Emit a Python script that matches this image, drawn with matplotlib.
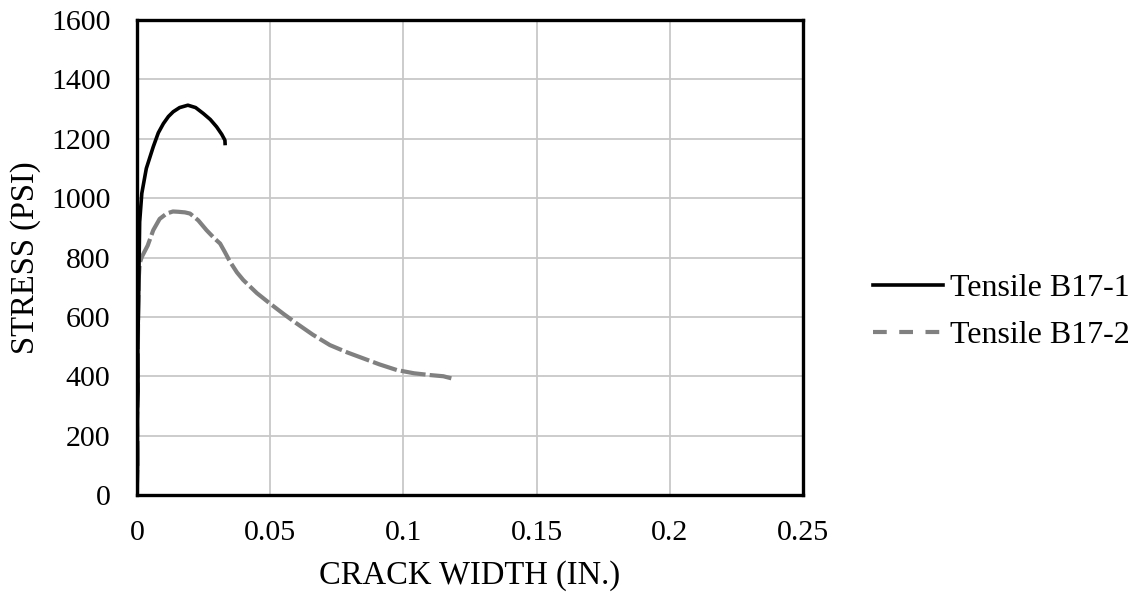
import matplotlib
matplotlib.use("Agg")
import matplotlib.pyplot as plt
from matplotlib.lines import Line2D

# Data
b17_1_width = [0.0, 0.0002, 0.0001, 0.0004, 0.0003, 0.0006, 0.0008, 0.0010, 0.0018,
               0.0035, 0.0061, 0.0080, 0.0099, 0.0118, 0.0136, 0.0160, 0.0191,
               0.0220, 0.0249, 0.0275, 0.0299, 0.0318, 0.0330, 0.0331]
b17_1_stress = [0, 100, 250, 350, 500, 650, 800, 920, 1016,
                1100, 1173, 1220, 1251, 1275, 1291, 1305, 1313,
                1305, 1285, 1265, 1240, 1215, 1195, 1178]

b17_2_width = [0.0, 0.0002, 0.0001, 0.0003, 0.0004, 0.0006, 0.0010, 0.0018,
               0.0040, 0.0061, 0.0085, 0.0111, 0.0135, 0.0155, 0.0180, 0.0199,
               0.0230, 0.0261, 0.0290, 0.0312, 0.0330, 0.0349, 0.0375, 0.0399,
               0.0450, 0.0499, 0.0550, 0.0599, 0.0660, 0.0724, 0.0790, 0.0850,
               0.0910, 0.0975, 0.1040, 0.1100, 0.1150, 0.1180]
b17_2_stress = [0, 150, 300, 450, 600, 720, 780, 802,
                840, 892, 930, 948, 955, 954, 952, 948,
                925, 892, 865, 847, 818, 786, 750, 724,
                680, 645, 610, 578, 540, 505, 480, 460,
                440, 421, 410, 404, 400, 393]

x_ticks = [0, 0.05, 0.1, 0.15, 0.2, 0.25]
x_tick_labels = ["0", "0.05", "0.1", "0.15", "0.2", "0.25"]
y_ticks = [0, 200, 400, 600, 800, 1000, 1200, 1400, 1600]
series_labels = ["Tensile B17-1", "Tensile B17-2"]

plt.rcParams['font.family'] = ['Liberation Serif', 'DejaVu Serif']

fig = plt.figure(figsize=(11.39, 6.01), dpi=100)
ax = fig.add_axes([137/1139, 1 - 495/601, (803-137)/1139, (495-20)/601])

ax.plot(b17_1_width, b17_1_stress, color='black', lw=2.6, solid_capstyle='butt', zorder=3)
ax.plot(b17_2_width, b17_2_stress, color='#808080', lw=3.0, dashes=(6, 1), zorder=2)

ax.set_xlim(0, 0.25)
ax.set_ylim(0, 1600)
ax.set_xticks(x_ticks)
ax.set_xticklabels(x_tick_labels)
ax.set_yticks(y_ticks)
ax.grid(True, color='#c8c8c8', lw=1.3)
ax.set_axisbelow(True)
for s in ax.spines.values():
    s.set_linewidth(2.4)
    s.set_color('black')
ax.tick_params(length=0, labelsize=21.5)
ax.tick_params(axis='y', pad=19)
ax.tick_params(axis='x', pad=18)

ax.set_xlabel("CRACK WIDTH (IN.)", fontsize=23.5, labelpad=10)
ax.set_ylabel("STRESS (PSI)", fontsize=23.5, labelpad=7)

handles = [Line2D([], [], color='black', lw=2.6),
           Line2D([], [], color='#808080', lw=3.0, dashes=(3.3, 3))]
fig.legend(handles, series_labels, loc='center left', bbox_to_anchor=(873/1139, 1 - 312/601),
           frameon=False, fontsize=23, handlelength=2.2, handletextpad=0.2,
           labelspacing=0.55, borderpad=0, borderaxespad=0)

fig.savefig("out.png", dpi=100)
